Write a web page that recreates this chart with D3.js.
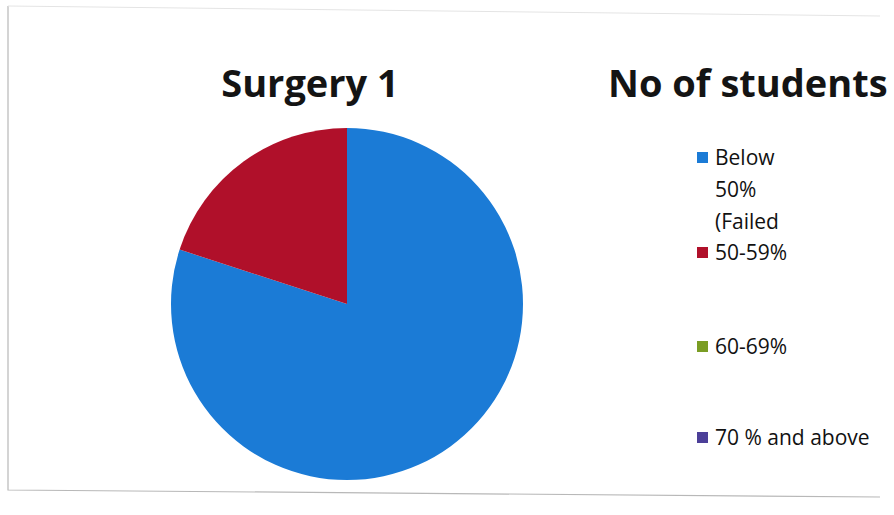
<!DOCTYPE html>
<html>
<head>
<meta charset="utf-8">
<script src="https://cdn.jsdelivr.net/npm/d3@7"></script>
<style>
  html, body { margin: 0; padding: 0; background: #fff; }
  svg { display: block; }
</style>
</head>
<body>
<svg id="chart" width="894" height="515"></svg>
<script>
const categories = ["Below 50% (Failed", "50-59%", "60-69%", "70 % and above"];
const legendLines = [["Below", "50%", "(Failed"], ["50-59%"], ["60-69%"], ["70 % and above"]];
const legendRows = [158, 253, 347, 438];
const studentCounts = [40, 10, 0, 0];
const colors = ["#1b7bd6", "#b0102a", "#7a9d24", "#4c3f98"];

const svg = d3.select("#chart");
const fontFamily = "'Open Sans', 'Noto Sans', sans-serif";

// faint frame of the printed chart
svg.append("path")
  .attr("d", "M8,6 L8,490 L880,497")
  .attr("fill", "none")
  .attr("stroke", "#b8b8b8")
  .attr("stroke-width", 1.2);
svg.append("path")
  .attr("d", "M8,6 L880,16")
  .attr("fill", "none")
  .attr("stroke", "#e4e4e4")
  .attr("stroke-width", 1);

svg.append("text")
  .attr("x", 310)
  .attr("y", 97)
  .attr("text-anchor", "middle")
  .attr("font-family", fontFamily)
  .attr("font-weight", 700)
  .attr("font-size", 38)
  .attr("fill", "#141414")
  .text("Surgery 1");

svg.append("text")
  .attr("x", 608)
  .attr("y", 97)
  .attr("font-family", fontFamily)
  .attr("font-weight", 700)
  .attr("font-size", 38)
  .attr("fill", "#141414")
  .text("No of students");

const pie = d3.pie().sort(null).value((d) => d);
const arc = d3.arc().innerRadius(0).outerRadius(176);

svg.append("g")
  .attr("transform", "translate(347,304)")
  .selectAll("path")
  .data(pie(studentCounts).filter((d) => d.value > 0))
  .join("path")
  .attr("d", arc)
  .attr("fill", (d) => colors[d.index]);

// legend
const legend = svg.append("g");
categories.forEach((cat, i) => {
  const y0 = legendRows[i];
  legend.append("rect")
    .attr("x", 697)
    .attr("y", y0 - 6)
    .attr("width", 11)
    .attr("height", 11)
    .attr("fill", colors[i]);
  legendLines[i].forEach((line, j) => {
    legend.append("text")
      .attr("x", 715)
      .attr("y", y0 + 7 + j * 32)
      .attr("font-family", fontFamily)
      .attr("font-size", 21)
      .attr("fill", "#111")
      .text(line);
  });
});
</script>
</body>
</html>
